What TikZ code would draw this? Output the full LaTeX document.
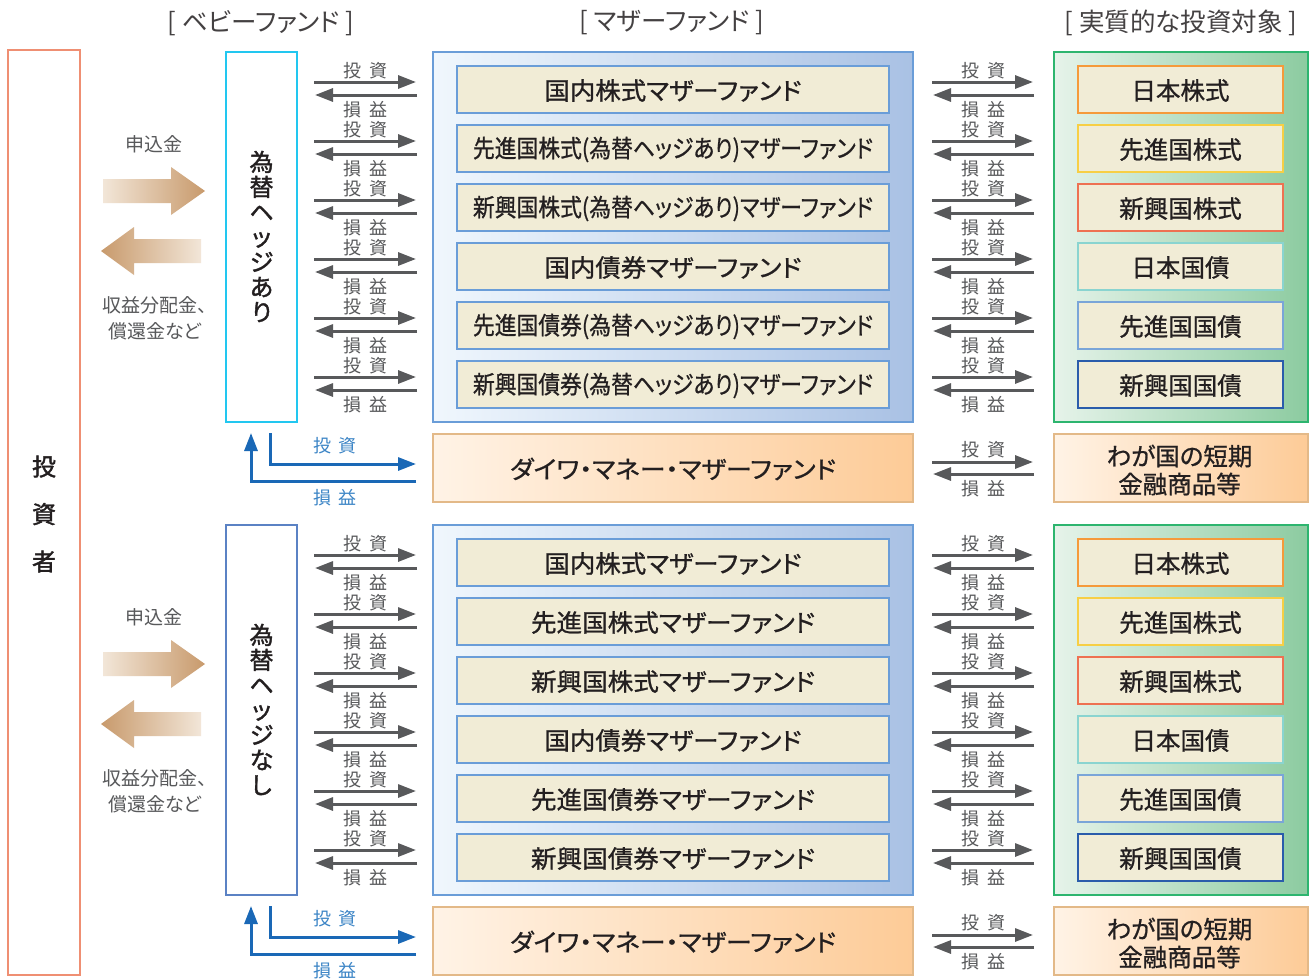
\documentclass[tikz,border=0pt]{standalone}
\usepackage{fontspec}
\usepackage{graphicx}
\usetikzlibrary{arrows.meta}
\setmainfont{Noto Sans CJK JP}[RawFeature=+palt]
\newfontfamily\jpm{Noto Sans CJK JP}[RawFeature=+palt,FakeBold=0.9]
\newfontfamily\jpb{Noto Sans CJK JP}[RawFeature=+palt,FakeBold=1.6]
\definecolor{inv}{HTML}{EF8F73}
\definecolor{cyanb}{HTML}{22C7F0}
\definecolor{blueb}{HTML}{5B82C4}
\definecolor{panelb}{HTML}{6A9DD8}
\definecolor{panell}{HTML}{F0F7FD}
\definecolor{panelr}{HTML}{A9C1E4}
\definecolor{cream}{HTML}{F1ECD6}
\definecolor{moneyl}{HTML}{FFF3E6}
\definecolor{moneyr}{HTML}{FDCB97}
\definecolor{moneyb}{HTML}{E3B988}
\definecolor{greenb}{HTML}{2DB56F}
\definecolor{greenl}{HTML}{E6F3EA}
\definecolor{greenr}{HTML}{8CCBA0}
\definecolor{ta}{HTML}{F59A3B}
\definecolor{tb}{HTML}{F7CF45}
\definecolor{tc}{HTML}{EE7152}
\definecolor{td}{HTML}{8AD4D0}
\definecolor{te}{HTML}{7AA5D8}
\definecolor{tf}{HTML}{2A5CAB}
\definecolor{arrowgrey}{HTML}{58595B}
\definecolor{linkblue}{HTML}{1A68B6}
\definecolor{linktext}{HTML}{3C85C6}
\definecolor{tanl}{HTML}{F2E6D8}
\definecolor{tanr}{HTML}{C89A6C}
\definecolor{ink}{HTML}{231F20}
\newcommand\wordgap{\spaceskip=8pt\relax}
\newcommand\headgap{\spaceskip=6pt\relax}
\newcommand\tightlines{\lineskiplimit=-100pt\relax}
\tikzset{
  box/.style={draw,line width=2pt,inner sep=0pt,outer sep=0pt},
  boxtext/.style={inner sep=0pt,align=center,text=ink},
  big/.style={boxtext,yshift=-1pt,font=\fontsize{24.5}{28}\selectfont\jpm\tightlines},
  bigtwo/.style={boxtext,yshift=-2pt,xshift=-1.5pt,font=\fontsize{24.5}{28}\selectfont\jpm\tightlines},
  vert/.style={boxtext,yshift=0.5pt,font=\fontsize{24}{25}\selectfont\jpb\tightlines},
  investorbox/.style={boxtext,yshift=-1.5pt,font=\fontsize{24}{47.5}\selectfont\jpb\tightlines},
  head/.style={inner sep=0pt,text=ink!85,font=\fontsize{25.5}{28}\selectfont\headgap},
  side/.style={inner sep=0pt,text=arrowgrey,align=center,font=\fontsize{19}{26}\selectfont},
  small/.style={inner sep=0pt,text=arrowgrey,font=\fontsize{18}{20}\selectfont\wordgap},
  smallblue/.style={small,text=linktext},
  flow/.style={line width=3pt,color=arrowgrey,-{Triangle[length=18pt,width=13pt]}},
  link/.style={line width=3pt,color=linkblue,-{Triangle[length=18pt,width=13pt]}},
}
% name x1 y1 x2 y2 style
\newcommand\rbox[6]{\pgfmathsetmacro\rw{(#4)-(#2)}\pgfmathsetmacro\rh{(#5)-(#3)}\pgfmathsetmacro\rx{((#2)+(#4))/2}\pgfmathsetmacro\ry{((#3)+(#5))/2}\node[box,#6,minimum width=\rw pt,minimum height=\rh pt] (#1) at (\rx,\ry) {};}
% name x1 y1 x2 y2 box style, text style, text
\newcommand\tbox[8]{\rbox{#1}{#2}{#3}{#4}{#5}{#6}\node[#7] (#1-text) at (#1.center) {#8};}
% name x1 x2 y1 y2
\newcommand\flowpair[5]{%
  \coordinate (#1-a) at (#2,{#4});
  \coordinate (#1-b) at (#3,{#4});
  \coordinate (#1-c) at ({#3+1},{#5});
  \coordinate (#1-d) at ({#2+1},{#5});
  \draw[flow] (#1-a) -- (#1-b);
  \draw[flow] (#1-c) -- (#1-d);
}
\newcommand\fundgroup[5]{%
  % #1 prefix, #2 offset, #3 baby colour, #4 baby text, #5 list of width/text
  \tbox{#1baby}{226}{#2+52}{297}{#2+422}{draw=#3}{vert}{#4}
  \rbox{#1mother}{433}{#2+52}{913}{#2+422}{draw=panelb,left color=panell,right color=panelr}
  \rbox{#1target}{1054}{#2+52}{1308}{#2+422}{draw=greenb,left color=greenl,right color=greenr}
  \foreach \fw/\tx [count=\n from 0] in {#5}{
    \tbox{#1m\n}{457}{#2+66+59*\n}{889}{#2+113+59*\n}{draw=panelb,fill=cream}{big}{\resizebox{\fw pt}{\height}{\tx}}
    \flowpair{#1l\n}{314}{416}{#2+82+59*\n}{#2+95+59*\n}
    \flowpair{#1r\n}{932}{1033}{#2+82+59*\n}{#2+95+59*\n}
    \node[small] (#1li\n) at (365.5,{#2+70.5+59*\n}) {投 資};
    \node[small] (#1lo\n) at (365.5,{#2+109.5+59*\n}) {損 益};
    \node[small] (#1ri\n) at (983,{#2+70.5+59*\n}) {投 資};
    \node[small] (#1ro\n) at (983,{#2+109.5+59*\n}) {損 益};
  }
  \foreach \cc/\tx [count=\n from 0] in {ta/日本株式,tb/先進国株式,tc/新興国株式,td/日本国債,te/先進国国債,tf/新興国国債}{
    \tbox{#1t\n}{1078}{#2+66+59*\n}{1283}{#2+113+59*\n}{draw=\cc,fill=cream}{big}{\tx}
  }
  % money row
  \tbox{#1money}{433}{#2+434}{913}{#2+502}{draw=moneyb,left color=moneyl,right color=moneyr}{big}{\resizebox{326pt}{\height}{ダイワ・マネー・マザーファンド}}
  \tbox{#1short}{1054}{#2+434}{1308}{#2+502}{draw=moneyb,left color=moneyl,right color=moneyr}{bigtwo}{わが国の短期\\金融商品等}
  \flowpair{#1rm}{932}{1033}{#2+462}{#2+474}
  \node[small] (#1rmi) at (983,{#2+449.5}) {投 資};
  \node[small] (#1rmo) at (983,{#2+488.5}) {損 益};
  % blue links
  \coordinate (#1ba) at (270,{#2+433});
  \coordinate (#1bb) at (270,{#2+464});
  \coordinate (#1bc) at (416,{#2+464});
  \coordinate (#1bd) at (416,{#2+481});
  \coordinate (#1be) at (251,{#2+481});
  \coordinate (#1bf) at (251,{#2+433});
  \draw[link] (#1ba) -- (#1bb) -- (#1bc);
  \draw[link] (#1bd) -- (#1be) -- (#1bf);
  \node[smallblue] (#1bi) at (335,{#2+445.5}) {投 資};
  \node[smallblue] (#1bo) at (335,{#2+497.5}) {損 益};
  % big arrows
  \shade[left color=tanl,right color=tanr] (103,{#2+179}) -- (171,{#2+179}) -- (171,{#2+167}) -- (205,{#2+191}) -- (171,{#2+215}) -- (171,{#2+203}) -- (103,{#2+203}) -- cycle;
  \shade[left color=tanr,right color=tanl] (201,{#2+239}) -- (134,{#2+239}) -- (134,{#2+227}) -- (101,{#2+251}) -- (134,{#2+275}) -- (134,{#2+263}) -- (201,{#2+263}) -- cycle;
  \node[side] (#1pay) at (154,{#2+144}) {申込金};
  \node[side] (#1ret) at (155,{#2+318}) {収益分配金、\\償還金など};
}
\begin{document}
\begin{tikzpicture}[x=1pt,y=-1pt]
\useasboundingbox (0,0) rectangle (1310,978);
\fill[white] (0,0) rectangle (1310,978);
\node[head] (h1) at (261,23) {[ ベビーファンド ]};
\node[head] (h2) at (672,23) {[ マザーファンド ]};
\node[head] (h3) at (1181,23) {[ 実質的な投資対象 ]};
\tbox{investor}{8}{50}{80}{975}{draw=inv}{investorbox}{投\\資\\者}
\fundgroup{a}{0}{cyanb}{為\\替\\ヘ\\ッ\\ジ\\あ\\り}{257/国内株式マザーファンド,400/先進国株式(為替ヘッジあり)マザーファンド,400/新興国株式(為替ヘッジあり)マザーファンド,257/国内債券マザーファンド,400/先進国債券(為替ヘッジあり)マザーファンド,400/新興国債券(為替ヘッジあり)マザーファンド}
\fundgroup{b}{473}{blueb}{為\\替\\ヘ\\ッ\\ジ\\な\\し}{257/国内株式マザーファンド,284/先進国株式マザーファンド,284/新興国株式マザーファンド,257/国内債券マザーファンド,284/先進国債券マザーファンド,284/新興国債券マザーファンド}
\end{tikzpicture}
\end{document}
